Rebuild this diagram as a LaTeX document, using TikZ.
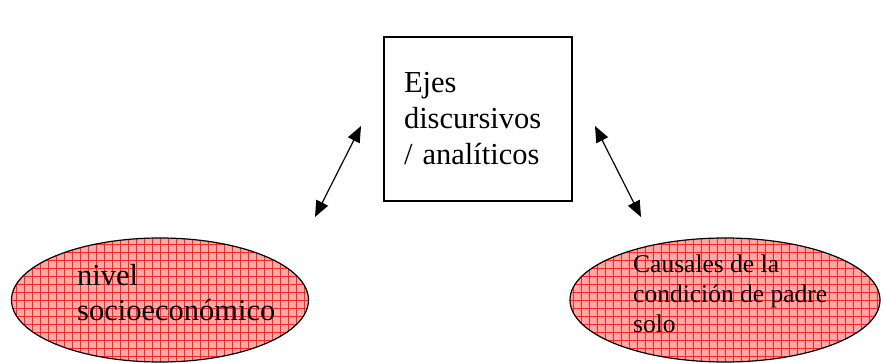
\documentclass[tikz,border=0pt]{standalone}
\usepackage{fontspec}
\setmainfont{Liberation Serif}
\usetikzlibrary{arrows.meta,shapes.geometric}
\definecolor{EllClr}{rgb}{1,0.66,0.66}

\tikzset{
  ejebox/.style={draw=black,line width=1.4pt,minimum width=188pt,minimum height=164pt,
    inner xsep=20pt,text width=148pt,align=left,font=\fontsize{30.5}{36}\selectfont},
  ellnode/.style={ellipse,draw=black,line width=1.2pt,fill=EllClr,inner sep=0pt,
    path picture={\draw[red!85,line width=0.4pt,step=8pt]
      (path picture bounding box.south west) grid (path picture bounding box.north east);}},
  elltext/.style={anchor=base west,inner sep=0pt,align=left},
  dblarrow/.style={{Triangle[length=16pt,width=13pt]}-{Triangle[length=16pt,width=13pt]},line width=1.2pt}
}

\begin{document}
\begin{tikzpicture}[x=1pt,y=-1pt]
\useasboundingbox (0,0) rectangle (886,363);

\node[ejebox] (ejes) at (478,119) {Ejes\\discursivos\\/ anal\'iticos};

\node[ellnode,minimum width=297pt,minimum height=124pt] (socio) at (160,300) {};
\node[ellnode,minimum width=310pt,minimum height=124pt] (causas) at (725,300) {};

% texto de las elipses (ancla en la ultima linea)
\node[elltext,font=\fontsize{30.5}{35}\selectfont] (sociotxt) at (77,320) {nivel\\socioecon\'omico};
\node[elltext,font=\fontsize{25.5}{29.5}\selectfont] (causastxt) at (633,332) {Causales de la\\condici\'on de padre\\solo};

% flechas entre ejes y elipses
\coordinate (la) at (315,217);
\coordinate (lb) at (361,126);
\coordinate (ra) at (595,126);
\coordinate (rb) at (641,217);
\draw[dblarrow] (la) -- (lb);
\draw[dblarrow] (ra) -- (rb);

\end{tikzpicture}
\end{document}
